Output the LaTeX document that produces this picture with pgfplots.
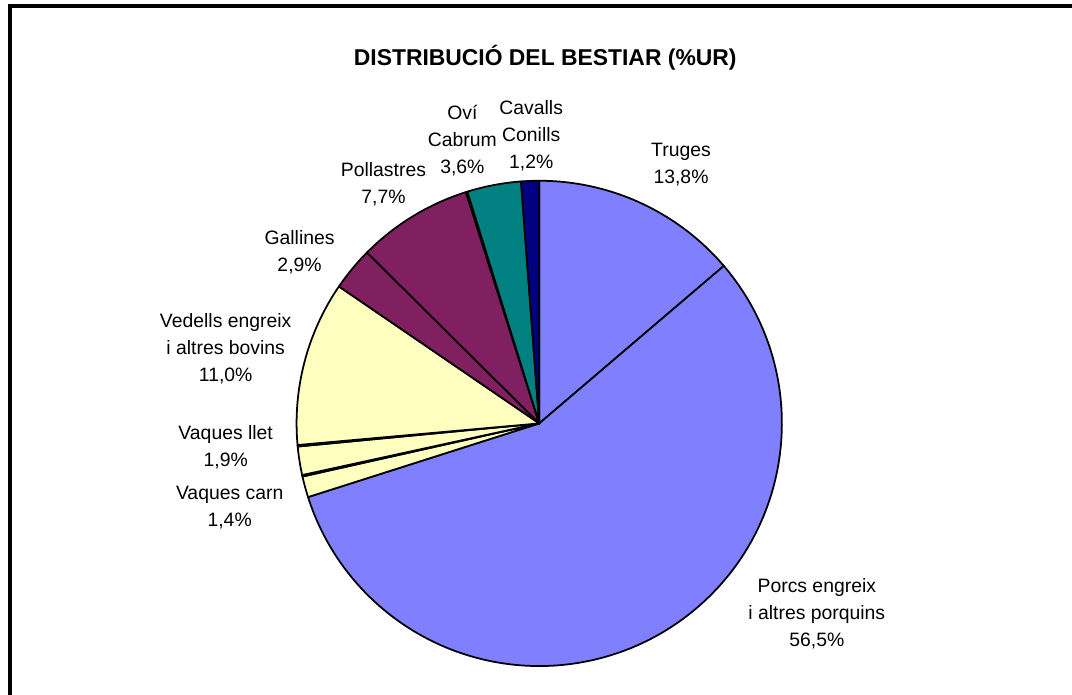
\documentclass[border=0pt]{standalone}
\usepackage{pgfplots}
\usepackage{pgfplotstable}
\pgfplotsset{compat=1.18}
\usepackage{fontspec}
\setmainfont{Liberation Sans}

\definecolor{pig}{HTML}{8080FF}
\definecolor{cow}{HTML}{FFFFC0}
\definecolor{plum}{HTML}{802060}
\definecolor{tealc}{HTML}{008080}
\definecolor{navyc}{HTML}{000080}
\definecolor{sliver}{HTML}{C8C8C8}

% slices clockwise from 12 o'clock (values in %UR; tiny unlabeled slivers included)
\pgfplotstableread[col sep=comma]{
value,color
13.8,pig
56.5,pig
1.4,cow
0.1,cow
1.9,cow
0.1,cow
11.0,cow
2.9,plum
7.7,plum
0.1,sliver
3.6,tealc
1.2,navyc
}\piedata

\begin{document}
\begin{tikzpicture}
\begin{axis}[
  x=0.25mm, y=0.25mm,
  xmin=0, xmax=1072, ymin=0, ymax=694,
  y dir=reverse,
  hide axis, clip=false,
]
\path (axis cs:0,0) rectangle (axis cs:1072,694);
\pgfplotsextra{
  \pgfplotstablegetrowsof{\piedata}\pgfmathtruncatemacro\nlast{\pgfplotsretval-1}
  \def\tot{0}
  \pgfplotsforeachungrouped \i in {0,...,\nlast}{
    \pgfplotstablegetelem{\i}{value}\of\piedata
    \pgfmathsetmacro\tot{\tot+\pgfplotsretval}
  }
  \def\cum{0}
  \def\R{60.75mm}
  \pgfplotsforeachungrouped \i in {0,...,\nlast}{
    \pgfplotstablegetelem{\i}{value}\of\piedata\let\v\pgfplotsretval
    \pgfplotstablegetelem{\i}{color}\of\piedata\let\c\pgfplotsretval
    \pgfmathsetmacro\a{90-\cum/\tot*360}
    \pgfmathsetmacro\cum{\cum+\v}
    \pgfmathsetmacro\b{90-\cum/\tot*360}
    \filldraw[fill=\c, draw=black, line width=1.25pt, line join=round]
      (axis cs:540,424) -- ++(\a:\R) arc[start angle=\a, end angle=\b, radius=\R] -- cycle;
  }
}
\draw[line width=2.2pt, line cap=rect, line join=miter]
  (axis cs:10,694) -- (axis cs:10,6) -- (axis cs:1072,6);
\node[font=\fontsize{16.3}{19}\selectfont\bfseries] at (axis cs:546,58) {DISTRIBUCIÓ DEL BESTIAR (\%UR)};
\tikzset{lab/.style={align=center, inner sep=0pt, font=\fontsize{13.8}{19.2}\selectfont}}
\node[lab] at (axis cs:682,165) {Truges\\13,8\%};
\node[lab] at (axis cs:818,615) {Porcs engreix\\i altres porquins\\56,5\%};
\node[lab] at (axis cs:230,508) {Vaques carn\\1,4\%};
\node[lab] at (axis cs:226,448) {Vaques llet\\1,9\%};
\node[lab] at (axis cs:226,349) {Vedells engreix\\i altres bovins\\11,0\%};
\node[lab] at (axis cs:300,253) {Gallines\\2,9\%};
\node[lab] at (axis cs:384,184) {Pollastres\\7,7\%};
\node[lab] at (axis cs:463,141) {Oví\\Cabrum\\3,6\%};
\node[lab] at (axis cs:532,136) {Cavalls\\Conills\\1,2\%};
\end{axis}
\end{tikzpicture}
\end{document}
